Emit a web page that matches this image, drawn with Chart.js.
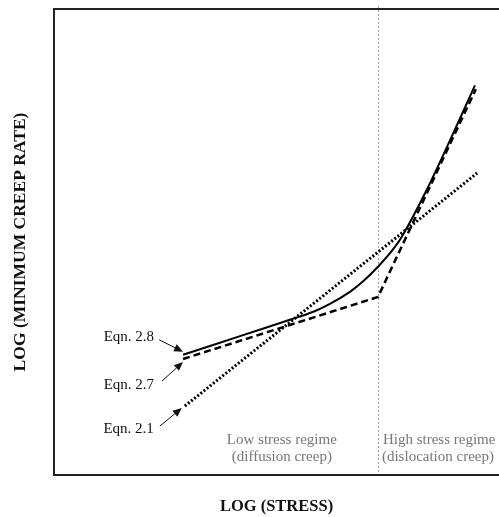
<!DOCTYPE html>
<html>
<head>
<meta charset="utf-8">
<script src="https://cdn.jsdelivr.net/npm/chart.js@4.4.0/dist/chart.umd.min.js"></script>
<style>
  html, body { margin: 0; padding: 0; background: #fff; }
</style>
</head>
<body>
<canvas id="creepChart" width="499" height="517"></canvas>
<script>
// log stress (x) vs log minimum creep rate (y), arbitrary units
const eqn28Stress = [2.90, 4.18, 5.30, 5.87, 6.20, 6.65, 6.94, 7.28, 7.60, 7.84, 8.34, 8.85, 9.46];
const eqn28Rate   = [2.58, 2.98, 3.33, 3.52, 3.67, 3.93, 4.15, 4.47, 4.82, 5.15, 6.05, 7.08, 8.36];
const eqn27Stress = [2.90, 7.28, 9.48];
const eqn27Rate   = [2.49, 3.82, 8.28];
const eqn21Stress = [2.94, 9.51];
const eqn21Rate   = [1.48, 6.48];
const regimeBoundary = 7.28;
const seriesLabels = ['Eqn. 2.8', 'Eqn. 2.7', 'Eqn. 2.1'];
const lowRegimeLabel = ['Low stress regime', '(diffusion creep)'];
const highRegimeLabel = ['High stress regime', '(dislocation creep)'];

const serif = '"Liberation Serif", "Times New Roman", serif';

function toPoints(xs, ys) {
    return xs.map((v, i) => ({ x: v, y: ys[i] }));
}

function arrow(ctx, x0, y0, x1, y1) {
    const ang = Math.atan2(y1 - y0, x1 - x0);
    const len = 9, half = 3.8;
    const bx = x1 - len * Math.cos(ang), by = y1 - len * Math.sin(ang);
    ctx.beginPath();
    ctx.moveTo(x0, y0);
    ctx.lineTo(bx, by);
    ctx.stroke();
    ctx.beginPath();
    ctx.moveTo(x1, y1);
    ctx.lineTo(bx + half * Math.sin(ang), by - half * Math.cos(ang));
    ctx.lineTo(bx - half * Math.sin(ang), by + half * Math.cos(ang));
    ctx.closePath();
    ctx.fill();
}

// regime divider drawn under the curves
const regimeLine = {
    id: 'regimeLine',
    beforeDatasetsDraw(chart) {
        const { ctx, chartArea: a, scales: { x } } = chart;
        const px = Math.round(x.getPixelForValue(regimeBoundary)) + 0.5;
        ctx.save();
        ctx.strokeStyle = '#a0a0a0';
        ctx.lineWidth = 1;
        ctx.setLineDash([2, 2]);
        ctx.beginPath();
        ctx.moveTo(px, a.top - 3);
        ctx.lineTo(px, a.bottom);
        ctx.stroke();
        ctx.restore();
    }
};

// frame, equation labels with arrows, regime captions
const annotations = {
    id: 'annotations',
    afterDatasetsDraw(chart) {
        const { ctx, chartArea: a, scales: { x, y } } = chart;
        ctx.save();

        ctx.strokeStyle = '#222';
        ctx.lineWidth = 2;
        ctx.beginPath();
        ctx.moveTo(a.right + 2, a.top);
        ctx.lineTo(a.left, a.top);
        ctx.lineTo(a.left, a.bottom);
        ctx.lineTo(a.right + 2, a.bottom);
        ctx.stroke();

        ctx.font = '15px ' + serif;
        ctx.fillStyle = '#111';
        ctx.strokeStyle = '#111';
        ctx.lineWidth = 1;
        ctx.textBaseline = 'middle';
        ctx.textAlign = 'right';

        const starts = [
            [eqn28Stress[0], eqn28Rate[0]],
            [eqn27Stress[0], eqn27Rate[0]],
            [eqn21Stress[0], eqn21Rate[0]]
        ];
        // text offset and arrow from/to, relative to each curve's first point
        const offs = [
            { tx: -29, ty: -18, ax0: -24, ay0: -15, ax1: 0, ay1: -3 },
            { tx: -29, ty: 26, ax0: -21, ay0: 22, ax1: 0, ay1: 3 },
            { tx: -31, ty: 23, ax0: -25, ay0: 20, ax1: -3, ay1: 2 }
        ];
        starts.forEach((s, i) => {
            const sx = x.getPixelForValue(s[0]);
            const sy = y.getPixelForValue(s[1]);
            const o = offs[i];
            ctx.fillText(seriesLabels[i], sx + o.tx, sy + o.ty);
            arrow(ctx, sx + o.ax0, sy + o.ay0, sx + o.ax1, sy + o.ay1);
        });

        ctx.fillStyle = '#777';
        ctx.textAlign = 'center';
        const lowX = x.getPixelForValue(5.12);
        ctx.fillText(lowRegimeLabel[0], lowX, a.bottom - 35);
        ctx.fillText(lowRegimeLabel[1], lowX, a.bottom - 18);
        ctx.textAlign = 'left';
        const highX = x.getPixelForValue(regimeBoundary) + 5;
        ctx.fillText(highRegimeLabel[0], highX, a.bottom - 35);
        ctx.fillText(highRegimeLabel[1], highX - 1, a.bottom - 18);

        ctx.restore();
    }
};

const creepChart = new Chart(document.getElementById('creepChart'), {
    type: 'line',
    data: {
        datasets: [{
            label: seriesLabels[0],
            data: toPoints(eqn28Stress, eqn28Rate),
            borderColor: '#000',
            borderWidth: 2,
            tension: 0.4,
            pointRadius: 0,
            fill: false
        }, {
            label: seriesLabels[1],
            data: toPoints(eqn27Stress, eqn27Rate),
            borderColor: '#000',
            borderWidth: 2.5,
            borderDash: [7, 4],
            pointRadius: 0,
            fill: false
        }, {
            label: seriesLabels[2],
            data: toPoints(eqn21Stress, eqn21Rate),
            borderColor: '#000',
            borderWidth: 3,
            borderDash: [2, 2],
            pointRadius: 0,
            fill: false
        }]
    },
    options: {
        responsive: false,
        animation: false,
        devicePixelRatio: 1,
        layout: { padding: { top: 9, right: 0, bottom: 0.1, left: 0 } },
        plugins: {
            legend: { display: false },
            tooltip: { enabled: false }
        },
        scales: {
            x: {
                type: 'linear',
                min: 0,
                max: 10,
                grid: { display: false, drawTicks: false },
                border: { display: false },
                ticks: { display: false },
                title: {
                    display: true,
                    text: 'LOG (STRESS)',
                    color: '#111',
                    font: { family: serif, size: 16.5, weight: 'bold' },
                    padding: { top: 22.1, bottom: 0 }
                }
            },
            y: {
                min: 0,
                max: 10,
                grid: { display: false, drawTicks: false },
                border: { display: false },
                ticks: { display: false },
                title: {
                    display: true,
                    text: 'LOG (MINIMUM CREEP RATE)',
                    color: '#111',
                    font: { family: serif, size: 17.5, weight: 'bold' },
                    padding: { top: 9.5, bottom: 23.5 }
                }
            }
        }
    },
    plugins: [regimeLine, annotations]
});
</script>
</body>
</html>
